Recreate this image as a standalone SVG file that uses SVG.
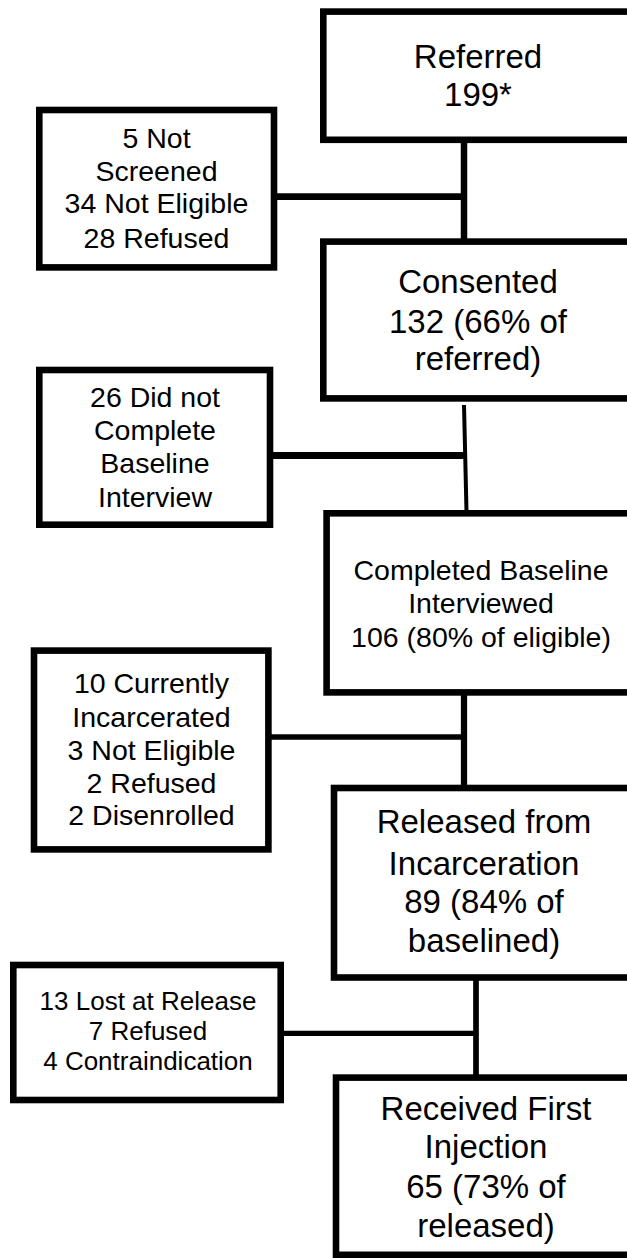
<svg xmlns="http://www.w3.org/2000/svg" width="627" height="1258" viewBox="0 0 627 1258">
<style>
.box{fill:#fff;stroke:#000;stroke-width:6.6}
.t{font-family:"Liberation Sans",Arial,sans-serif;fill:#000;text-anchor:middle}
.m{font-size:33px}
.s{font-size:28.5px}
.x{font-size:26px}
.c{stroke:#000;fill:none;stroke-linecap:butt}
</style>
<rect x="0" y="0" width="627" height="1258" fill="#fff"/>
<g id="connectors">
<line class="c" x1="464" y1="142" x2="464" y2="240" stroke-width="6.5"/>
<line class="c" x1="276" y1="196.7" x2="467" y2="196.7" stroke-width="6.7"/>
<line class="c" x1="464" y1="405" x2="466.5" y2="511" stroke-width="4"/>
<line class="c" x1="272" y1="455.5" x2="465" y2="455.5" stroke-width="7"/>
<line class="c" x1="464" y1="695" x2="464" y2="786" stroke-width="6.3"/>
<line class="c" x1="271" y1="737" x2="466" y2="737" stroke-width="5.7"/>
<line class="c" x1="476" y1="979" x2="476" y2="1076" stroke-width="5.7"/>
<line class="c" x1="283" y1="1033.3" x2="478" y2="1033.3" stroke-width="5.3"/>
</g>
<g id="referred">
<rect class="box" x="323.3" y="11.6" width="340" height="128.2"/>
<text class="t m" x="478" y="68">Referred</text>
<text class="t m" x="478" y="106">199*</text>
</g>
<g id="excluded1">
<rect class="box" x="39.3" y="110" width="234.7" height="157.4"/>
<text class="t s" x="156.5" y="148.3">5 Not</text>
<text class="t s" x="156.5" y="181">Screened</text>
<text class="t s" x="156.5" y="213.3">34 Not Eligible</text>
<text class="t s" x="156.5" y="247.7">28 Refused</text>
</g>
<g id="consented">
<rect class="box" x="323.3" y="241.6" width="340" height="156.8"/>
<text class="t m" x="478" y="293.3">Consented</text>
<text class="t m" x="478" y="333.3">132 (66% of</text>
<text class="t m" x="478" y="370">referred)</text>
</g>
<g id="excluded2">
<rect class="box" x="39.3" y="370" width="230.7" height="154.7"/>
<text class="t s" x="155" y="406.7">26 Did not</text>
<text class="t s" x="155" y="440">Complete</text>
<text class="t s" x="155" y="472.7">Baseline</text>
<text class="t s" x="155" y="506.7">Interview</text>
</g>
<g id="baseline">
<rect class="box" x="326.6" y="513.3" width="340" height="179.1"/>
<text class="t s" x="481" y="580">Completed Baseline</text>
<text class="t s" x="481" y="613.3">Interviewed</text>
<text class="t s" x="481" y="646.7">106 (80% of eligible)</text>
</g>
<g id="excluded3">
<rect class="box" x="34" y="650.6" width="234.4" height="198.8"/>
<text class="t s" x="151.5" y="693.3">10 Currently</text>
<text class="t s" x="151.5" y="726.7">Incarcerated</text>
<text class="t s" x="151.5" y="760">3 Not Eligible</text>
<text class="t s" x="151.5" y="792.7">2 Refused</text>
<text class="t s" x="151.5" y="825">2 Disenrolled</text>
</g>
<g id="released">
<rect class="box" x="334" y="788" width="340" height="189.5"/>
<text class="t m" x="484" y="833.3">Released from</text>
<text class="t m" x="484" y="875">Incarceration</text>
<text class="t m" x="484" y="913.3">89 (84% of</text>
<text class="t m" x="484" y="951.7">baselined)</text>
</g>
<g id="excluded4">
<rect class="box" x="13.3" y="965" width="267.4" height="135"/>
<text class="t x" x="148" y="1010">13 Lost at Release</text>
<text class="t x" x="148" y="1040">7 Refused</text>
<text class="t x" x="148" y="1070">4 Contraindication</text>
</g>
<g id="injection">
<rect class="box" x="336" y="1077.6" width="340" height="177.2"/>
<text class="t m" x="486" y="1120">Received First</text>
<text class="t m" x="486" y="1158.3">Injection</text>
<text class="t m" x="486" y="1198.3">65 (73% of</text>
<text class="t m" x="486" y="1236.7">released)</text>
</g>
</svg>
